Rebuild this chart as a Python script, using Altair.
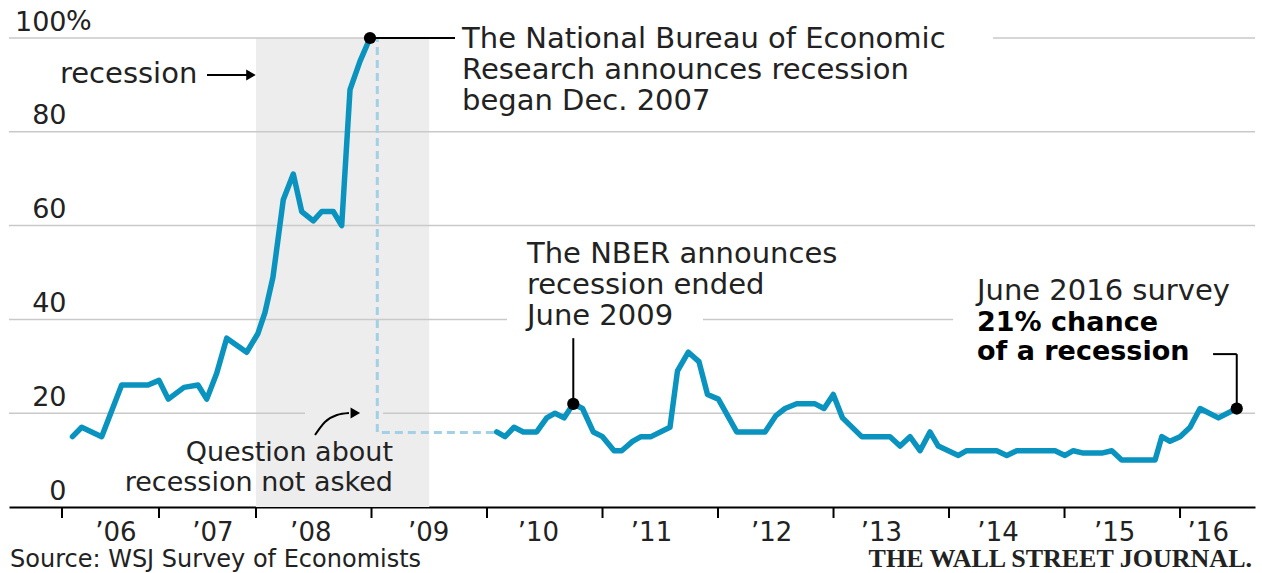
import altair as alt
import pandas as pd

# WSJ survey: economists' probability of a recession within 12 months (%)
# positions are in decimal years
t_pre = [2006.108, 2006.203, 2006.409, 2006.615, 2006.887, 2007.0, 2007.096, 2007.258,
         2007.402, 2007.492, 2007.595, 2007.698, 2007.904, 2008.017, 2008.078, 2008.147,
         2008.236, 2008.323, 2008.396, 2008.496, 2008.569, 2008.669, 2008.742, 2008.814,
         2008.900, 2008.987]
v_pre = [15, 17, 15, 26, 26, 27, 23, 25.5, 26, 23, 28.5, 36, 33, 37, 41.5, 49,
         65.5, 71, 63, 61, 63, 63, 60, 89, 95, 100]

t_post = [2010.084, 2010.156, 2010.234, 2010.314, 2010.430, 2010.517, 2010.589, 2010.667,
          2010.747, 2010.827, 2010.920, 2011.0, 2011.100, 2011.166, 2011.260, 2011.333,
          2011.420, 2011.584, 2011.649, 2011.743, 2011.835, 2011.909, 2012.003, 2012.162,
          2012.407, 2012.502, 2012.580, 2012.681, 2012.840, 2012.918, 2012.998, 2013.078,
          2013.244, 2013.489, 2013.576, 2013.662, 2013.749, 2013.835, 2013.907, 2014.081,
          2014.153, 2014.413, 2014.5, 2014.586, 2014.918, 2015.004, 2015.076, 2015.163,
          2015.322, 2015.409, 2015.495, 2015.784, 2015.842, 2015.913, 2016.0, 2016.087,
          2016.173, 2016.332, 2016.491]
v_post = [16, 15, 17, 16, 16, 19, 20, 19,
          22, 21, 16, 15, 12, 12, 14, 15,
          15, 17, 29, 33, 31, 24, 23, 16,
          16, 19.5, 21, 22, 22, 21, 24, 19,
          15, 15, 13, 15, 12, 16, 13, 11,
          12, 12, 11, 12, 12, 11, 12, 11.5,
          11.5, 12, 10, 10, 15, 14, 15, 17,
          21, 19, 21]

year_ticks = list(range(2006, 2017))
year_label_pos = [2006.55, 2007.55, 2008.47, 2009.49, 2010.44, 2011.42, 2012.46,
                  2013.41, 2014.42, 2015.43, 2016.24]
y_ticks = [0, 20, 40, 60, 80, 100]

recession = (2008.0, 2009.5)
X0, X1 = 2005.4536, 2016.649

W, H = 1246, 469
FONT = "DejaVu Sans"
INK = "#222222"
BLUE = "#0b93bf"
NOTE_SIZE = 29

xs = alt.Scale(domain=[X0, 2008, X1], range=[0, 247, W], nice=False, zero=False)
ys = alt.Scale(domain=[0, 100], nice=False, zero=False)

x_axis = alt.Axis(values=year_label_pos, title=None, grid=False, ticks=False, tickSize=0,
                  domain=True, domainColor="black", domainWidth=2,
                  labelExpr="'\u2019' + format(floor(datum.value) % 100, '02d')",
                  labelFont=FONT, labelFontSize=26, labelColor=INK,
                  labelBaseline="alphabetic", labelPadding=33, labelAlign="center")
y_axis = alt.Axis(values=y_ticks, title=None, grid=False, ticks=False, tickSize=0,
                  domain=False, labelFont=FONT, labelFontSize=27, labelColor=INK,
                  labelAlign="right", labelBaseline="alphabetic", labelPadding=-57,
                  labelOffset=-8)

X = alt.X("t:Q", scale=xs, axis=x_axis)
Y = alt.Y("v:Q", scale=ys, axis=y_axis)

series = pd.DataFrame({
    "t": t_pre + t_post,
    "v": v_pre + v_post,
    "seg": ["a"] * len(t_pre) + ["b"] * len(t_post),
})

# shaded recession period
shade = alt.Chart(pd.DataFrame({"t": [recession[0]], "t2": [recession[1]],
                                "v": [0], "v2": [100]})).mark_rect(
    color="#ededed").encode(x=X, x2="t2:Q", y=Y, y2="v2:Q")

# horizontal gridlines, interrupted behind annotations
grid = pd.DataFrame({
    "v": [100, 100, 80, 60, 40, 40, 20, 20],
    "t": [X0, 2014.381, X0, X0, X0, 2011.870, X0, 2009.10],
    "t2": [2008.987, X1, X1, X1, 2010.173, 2014.035, 2008.424, X1],
})
grid_layer = alt.Chart(grid).mark_rule(color="#c9c9c9", strokeWidth=1.5).encode(
    x=X, x2="t2:Q", y=Y)

# year boundary ticks below the axis
ticks = alt.Chart(pd.DataFrame({"t": year_ticks})).mark_rule(
    color="black", strokeWidth=2).encode(x=X, y=alt.value(H), y2=alt.value(H + 11))

# dashed link across the months when the question was not asked
gap = pd.DataFrame({"t": [2009.05, 2009.05, 2010.084], "v": [100, 15.9, 15.9]})
gap_layer = alt.Chart(gap).mark_line(color="#a3d0e4", strokeWidth=3,
                                     strokeDash=[8, 5], strokeDashOffset=4).encode(
    x=X, y=Y, order="o:Q").transform_window(o="row_number()")

line = alt.Chart(series).mark_line(color=BLUE, strokeWidth=5.5, strokeJoin="round",
                                   strokeCap="round").encode(x=X, y=Y, detail="seg:N")

# leader lines for the annotations
leaders = pd.DataFrame({
    "t": [2008.987, 2010.747, 2016.491, 2016.286],
    "t2": [2009.723, 2010.747, 2016.491, 2016.491],
    "v": [100, 22, 21, 32.6],
    "v2": [100, 36.0, 32.6, 32.6],
})
leader_layer = alt.Chart(leaders).mark_rule(color="black", strokeWidth=2).encode(
    x=X, x2="t2:Q", y=Y, y2="v2:Q")

dots = alt.Chart(pd.DataFrame({"t": [2008.987, 2010.747, 2016.491],
                               "v": [100, 22, 21]})).mark_circle(
    color="black", opacity=1, size=150).encode(x=X, y=Y)

# "recession" arrow
arrow_line = alt.Chart(pd.DataFrame({"t": [2007.495], "t2": [2007.93], "v": [92.1]})).mark_rule(
    color="black", strokeWidth=2).encode(x=X, x2="t2:Q", y=Y)
curve = pd.DataFrame({"t": [2008.511, 2008.597, 2008.701, 2008.805],
                      "v": [15.35, 18.12, 19.62, 20.04]})
curve_layer = alt.Chart(curve).mark_line(color="black", strokeWidth=2,
                                         interpolate="monotone").encode(x=X, y=Y)
heads = alt.Chart(pd.DataFrame({"t": [2007.948, 2008.86], "v": [92.1, 20.04]})).mark_point(
    shape="triangle-right", filled=True, color="black", opacity=1, size=120).encode(x=X, y=Y)

notes = pd.DataFrame({
    "t": [2005.979, 2009.784, 2009.784, 2009.784, 2010.346, 2010.346, 2010.346, 2014.242],
    "v": [90.4, 97.87, 91.26, 84.65, 52.03, 45.42, 38.81, 44.14],
    "text": ["recession", "The National Bureau of Economic", "Research announces recession",
             "began Dec. 2007", "The NBER announces", "recession ended", "June 2009",
             "June 2016 survey"],
})
notes_layer = alt.Chart(notes).mark_text(font=FONT, fontSize=NOTE_SIZE, color=INK, align="left",
                                         baseline="alphabetic").encode(x=X, y=Y, text="text:N")

bold_notes = pd.DataFrame({"t": [2014.242, 2014.242], "v": [37.53, 31.34],
                           "text": ["21% chance", "of a recession"]})
bold_layer = alt.Chart(bold_notes).mark_text(font=FONT, fontSize=27, fontWeight="bold",
                                             color="black", align="left",
                                             baseline="alphabetic").encode(x=X, y=Y, text="text:N")

question = pd.DataFrame({"t": [2009.186, 2009.186], "v": [9.8, 3.41],
                         "text": ["Question about", "recession not asked"]})
question_layer = alt.Chart(question).mark_text(font=FONT, fontSize=27, color=INK,
                                               align="right", baseline="alphabetic").encode(
    x=X, y=Y, text="text:N")

pct = alt.Chart(pd.DataFrame({"t": [2006.041], "v": [100], "text": ["%"]})).mark_text(
    font=FONT, fontSize=27, color=INK, align="left", baseline="alphabetic", dy=-8).encode(
    x=X, y=Y, text="text:N")

source = alt.Chart(pd.DataFrame({"t": [2005.464], "v": [-12.8],
                                 "text": ["Source: WSJ Survey of Economists"]})).mark_text(
    font=FONT, fontSize=24, color=INK, align="left", baseline="alphabetic").encode(
    x=X, y=Y, text="text:N")

masthead = alt.Chart(pd.DataFrame({"t": [2016.623], "v": [-12.8],
                                   "text": ["THE WALL STREET JOURNAL."]})).mark_text(
    font="Liberation Serif", fontSize=26, fontWeight="bold", color="#222222",
    align="right", baseline="alphabetic").encode(x=X, y=Y, text="text:N")

chart = alt.layer(
    shade, grid_layer, ticks, gap_layer, line, leader_layer, dots, arrow_line,
    curve_layer, heads, notes_layer, bold_layer, question_layer, pct, source, masthead,
).properties(
    width=W, height=H,
    autosize=alt.AutoSizeParams(type="none"),
    padding={"left": 9, "top": 38, "right": 7, "bottom": 66},
    background="white",
).configure_view(stroke=None)

chart.save("out.html", embed_options={"renderer": "svg", "actions": False})
